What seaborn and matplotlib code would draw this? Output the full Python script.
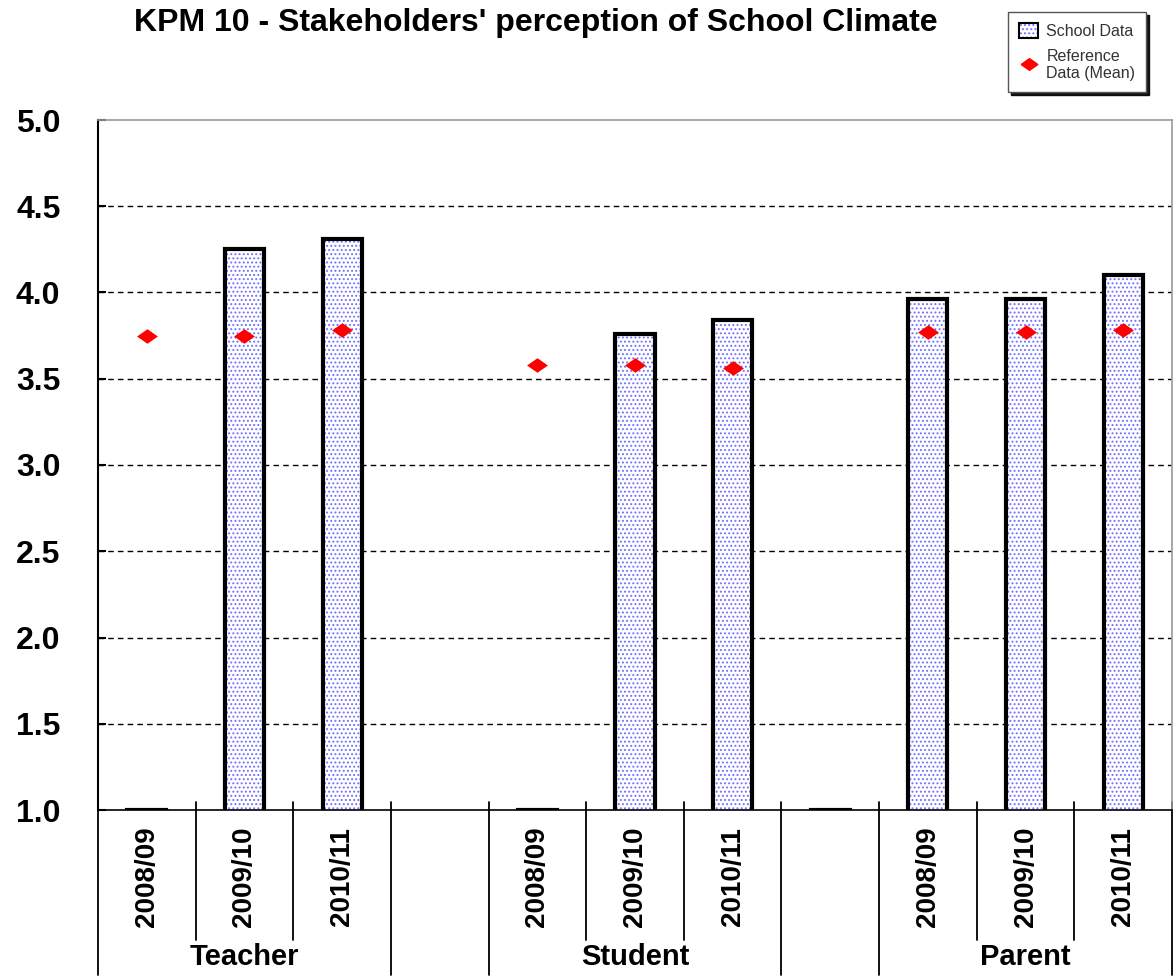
import matplotlib
matplotlib.use("Agg")
import matplotlib.pyplot as plt
from matplotlib.patches import Patch
from matplotlib.lines import Line2D
import numpy as np
import pandas as pd
import seaborn as sns

groups = ["Teacher", "Student", "Parent"]
years = ["2008/09", "2009/10", "2010/11"]
# kazda grupa ma 3 lata, miedzy grupami pusta kolumna
slots = ["T 2008/09", "T 2009/10", "T 2010/11", "gap 1",
         "S 2008/09", "S 2009/10", "S 2010/11", "gap 2",
         "P 2008/09", "P 2009/10", "P 2010/11"]
slot_labels = years + [""] + years + [""] + years
school_data = [1.0, 4.25, 4.31, np.nan, 1.0, 3.76, 3.84, 1.0, 3.96, 3.96, 4.10]
reference_mean = [3.75, 3.75, 3.78, np.nan, 3.58, 3.58, 3.56, np.nan, 3.77, 3.77, 3.78]
y_ticks = [1.0, 1.5, 2.0, 2.5, 3.0, 3.5, 4.0, 4.5, 5.0]

df = pd.DataFrame({"slot": slots, "school": school_data, "reference": reference_mean})

sns.set_theme(style="white")
plt.rcParams["font.family"] = ["Liberation Sans", "DejaVu Sans"]
plt.rcParams["hatch.linewidth"] = 0.9
plt.rcParams["text.color"] = "black"
plt.rcParams["xtick.color"] = "black"
plt.rcParams["ytick.color"] = "black"

fig = plt.figure(figsize=(11.76, 9.8), dpi=100)
ax = fig.add_axes([98 / 1176, 1 - 810 / 980, 1074 / 1176, 690 / 980])

# siatka pod slupkami
for v in y_ticks[1:-1]:
    ax.axhline(v, color="black", linewidth=1, linestyle=(0, (4, 3)), zorder=0.5)

# kropkowane wypelnienie + czarna ramka
sns.barplot(data=df, x="slot", y="school", order=slots, color="white", hatch="....",
            edgecolor="#7070ff", linewidth=0, width=0.4, errorbar=None, ax=ax, zorder=1)
sns.barplot(data=df, x="slot", y="school", order=slots, color="black", fill=False,
            edgecolor="black", linewidth=3, width=0.4, errorbar=None, ax=ax, zorder=2)

diamond = [(-1, 0), (0, 0.7), (1, 0), (0, -0.7), (-1, 0)]
sns.stripplot(data=df, x="slot", y="reference", order=slots, jitter=False, marker=diamond,
              color="red", size=15, linewidth=0, ax=ax, zorder=3)

ax.set_ylim(1, 5)
ax.set_xlim(-0.5, len(slots) - 0.5)
ax.set_yticks(y_ticks)
ax.set_yticklabels([f"{v:.1f}" for v in y_ticks], fontsize=23, fontweight="bold")
ax.tick_params(axis="y", direction="in", length=6, width=1.5, color="black", pad=27, left=True)
ax.set_xticks(range(len(slots)))
ax.set_xticklabels(slot_labels, rotation=90, fontsize=20, fontweight="bold")
ax.tick_params(axis="x", length=0, pad=12)
ax.set_xlabel("")
ax.set_ylabel("")

ax.spines["left"].set_color("black")
ax.spines["left"].set_linewidth(1.5)
ax.spines["bottom"].set_color("black")
ax.spines["bottom"].set_linewidth(1.2)
for s in ["top", "right"]:
    ax.spines[s].set_color("#9a9a9a")
    ax.spines[s].set_linewidth(1.2)

# linie podzialu pod osia X
trans = ax.get_xaxis_transform()
for x in [0.5, 1.5, 4.5, 5.5, 8.5, 9.5]:
    ax.plot([x, x], [0.012, -0.188], transform=trans, color="black", linewidth=1.3, clip_on=False)
for x in [-0.5, 2.5, 3.5, 6.5, 7.5, 10.5]:
    ax.plot([x, x], [0.012, -0.239], transform=trans, color="black", linewidth=1.3, clip_on=False)

for i, g in enumerate(groups):
    ax.text(1 + 4 * i, -0.213, g, transform=trans, ha="center", va="center",
            fontsize=21, fontweight="bold")

fig.text(536 / 1176, 1 - 23 / 980, "KPM 10 - Stakeholders' perception of School Climate",
         ha="center", va="center", fontsize=23, fontweight="bold")

school_handle = (Patch(facecolor="white", edgecolor="#7070ff", hatch="....", linewidth=0),
                 Patch(facecolor="none", edgecolor="black", linewidth=1.5))
ref_handle = Line2D([], [], linestyle="none", marker=diamond, color="red", markersize=12)
leg = fig.legend([school_handle, ref_handle], ["School Data", "Reference\nData (Mean)"],
                 loc="upper left", bbox_to_anchor=(1000 / 1176, 1 - 4 / 980),
                 fontsize=11.5, frameon=True, fancybox=False, handlelength=1.2,
                 handleheight=1.1, handletextpad=0.5, borderpad=0.7, labelspacing=0.6,
                 shadow={"color": "black", "alpha": 0.9})
leg.get_frame().set_edgecolor("#555555")
for t in leg.get_texts():
    t.set_color("#333333")

fig.savefig("out.png", dpi=100)
